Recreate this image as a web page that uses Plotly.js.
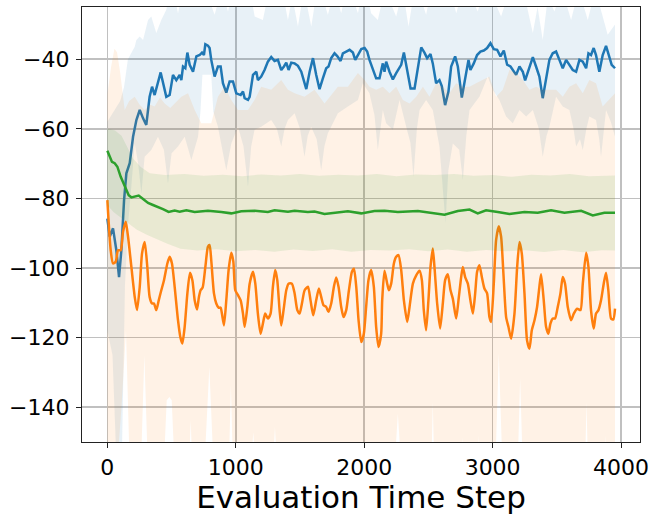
<!DOCTYPE html>
<html>
<head>
<meta charset="utf-8">
<script src="https://cdn.plot.ly/plotly-3.0.1.min.js"></script>
<style>html,body{margin:0;padding:0;background:#fff;}#chart{width:656px;height:515px;}</style>
</head>
<body>
<div id="chart"></div>
<script>
// ---- Blue series (mean) ----
const blueX = [0,18,44,70,91,109,130,135,148,174,187,200,226,252,278,303,329,348,368,415,459,485,511,537,563,576,589,607,623,641,667,693,719,737,752,763,783,796,809,835,861,882,900,926,952,978,1004,1038,1056,1069,1095,1108,1134,1160,1172,1198,1224,1250,1276,1302,1328,1354,1375,1393,1411,1432,1458,1484,1510,1530,1549,1575,1601,1626,1652,1678,1704,1722,1743,1769,1790,1816,1834,1860,1886,1912,1930,1951,1977,2003,2023,2041,2067,2093,2119,2145,2158,2171,2197,2223,2249,2275,2288,2309,2327,2345,2361,2392,2412,2444,2469,2490,2516,2534,2560,2586,2604,2630,2656,2677,2708,2729,2760,2794,2812,2827,2853,2879,2905,2931,2957,2983,3009,3035,3061,3087,3113,3139,3165,3183,3209,3235,3253,3274,3300,3313,3338,3364,3390,3416,3442,3468,3494,3520,3546,3572,3598,3624,3650,3676,3702,3728,3746,3766,3787,3805,3831,3857,3883,3909,3927,3953];
const blueY = [-85.8,-91.0,-88.6,-94.9,-102.6,-94.9,-80.5,-77.6,-72.8,-69.9,-65.1,-62.3,-57.5,-54.6,-57.0,-58.9,-50.8,-47.9,-50.3,-43.8,-50.8,-50.3,-44.5,-46.0,-44.5,-46.0,-42.1,-42.6,-38.1,-41.6,-43.6,-39.2,-38.8,-38.1,-38.8,-35.7,-36.1,-36.8,-40.2,-45.0,-42.1,-42.1,-46.9,-49.6,-46.4,-46.4,-49.8,-50.3,-49.3,-51.2,-51.7,-50.8,-44.5,-43.6,-46.0,-45.0,-43.1,-40.7,-39.4,-40.5,-40.2,-43.1,-42.1,-41.0,-43.1,-41.0,-41.2,-41.9,-43.6,-46.0,-48.6,-43.6,-39.7,-44.5,-48.6,-45.5,-42.6,-42.1,-39.7,-38.3,-39.1,-40.5,-38.3,-37.8,-37.3,-38.1,-40.2,-38.8,-37.1,-36.8,-37.8,-40.2,-42.6,-45.5,-45.5,-41.2,-43.6,-40.7,-43.6,-45.8,-44.0,-42.1,-41.6,-38.1,-42.1,-46.0,-48.4,-48.4,-43.6,-36.6,-38.1,-39.7,-38.5,-41.2,-46.9,-46.0,-47.7,-53.2,-49.3,-42.1,-39.2,-42.1,-51.0,-43.1,-40.2,-43.1,-41.2,-38.8,-37.8,-37.5,-36.8,-35.4,-37.1,-37.3,-39.2,-37.5,-41.6,-42.1,-43.6,-44.5,-42.1,-43.6,-46.1,-43.6,-40.7,-39.4,-42.1,-45.0,-51.2,-46.0,-40.2,-38.3,-37.8,-40.2,-42.6,-40.2,-41.6,-43.1,-43.6,-40.2,-40.7,-42.6,-38.3,-38.8,-36.8,-38.8,-43.6,-38.8,-36.2,-39.7,-41.6,-42.6];
// Blue band edges
const blueUpX = [0,50,100,130,160,213,226,252,278,317,342,381,420,459,500,550,600,700,783,835,890,939,1000,1100,1147,1211,1260,1350,1406,1440,1484,1530,1588,1640,1717,1770,1821,1870,1951,2000,2054,2106,2160,2249,2300,2345,2400,2482,2550,2650,2717,2780,2884,2950,3066,3150,3250,3313,3350,3390,3430,3481,3540,3611,3670,3741,3800,3896,3953];
const blueUpY = [-58,-55,-52,-48,-40,-36.4,-34.5,-33.5,-34.5,-28.7,-27.7,-32.5,-28.7,-25.8,-18,-26.8,-18,-15,-22,-27.2,-20,-26.3,-18,-18,-27.7,-28.7,-20,-18,-28.7,-22,-30.6,-20,-30.6,-18,-27.2,-20,-26.8,-18,-26.8,-18,-26.8,-28.7,-20,-27.7,-20,-30.6,-18,-27.2,-15,-18,-26.8,-18,-26.3,-18,-27.7,-18,-22,-32.5,-25,-34.5,-22,-26.3,-20,-28.7,-20,-28.7,-20,-33,-30];
const blueLoX = [0,40,65,90,115,137,160,190,213,240,265,290,342,394,440,472,500,550,602,654,706,725,740,809,825,861,926,965,1017,1060,1095,1120,1146,1198,1276,1320,1354,1380,1406,1458,1500,1535,1560,1587,1630,1665,1690,1717,1795,1873,1951,1989,2041,2080,2106,2145,2171,2223,2275,2327,2360,2384,2410,2431,2482,2534,2586,2610,2633,2655,2690,2740,2768,2795,2820,2897,2962,3001,3053,3105,3157,3209,3261,3313,3360,3390,3420,3442,3494,3546,3598,3630,3650,3680,3702,3730,3753,3805,3830,3844,3865,3883,3920,3953];
const blueLoY = [-118,-125,-150,-156,-150,-105,-88,-75,-64.2,-70,-78.6,-68,-66.1,-62.3,-66,-75.7,-67,-65.1,-62.3,-69.0,-62.3,-55,-44.5,-44.5,-55,-59.4,-71.9,-64.2,-59.4,-65,-76.6,-65,-60.3,-59.4,-57.5,-60,-65.1,-60,-57.5,-55.5,-60,-68.0,-62,-59.4,-63,-71.9,-65,-61.3,-55.5,-53.6,-51.7,-46.9,-49.8,-56,-66.1,-54.6,-58.4,-60.3,-51.7,-59.4,-64,-73.8,-60,-54.6,-51.7,-54.6,-65.1,-75,-87,-72,-64.2,-66,-74.7,-62,-54.6,-50.8,-45.0,-48.8,-51.7,-56.5,-58.4,-54.6,-56.5,-54.6,-60,-68.0,-62,-59.4,-50.8,-53.6,-54.6,-60,-65.1,-63,-66.1,-60,-56.5,-57.5,-63,-68.0,-60,-54.6,-58,-62.3];

// ---- Orange series (mean) ----
const orangeX = [0,26,44,65,83,104,122,143,161,187,213,231,252,270,291,311,329,348,363,381,400,420,441,467,485,503,524,550,568,584,602,623,643,662,680,698,713,726,742,763,783,796,809,830,848,866,882,892,908,926,944,965,981,996,1017,1038,1056,1069,1090,1108,1134,1152,1172,1193,1211,1229,1250,1271,1289,1307,1323,1341,1354,1372,1393,1411,1437,1458,1479,1497,1515,1536,1562,1582,1603,1626,1647,1665,1683,1704,1722,1743,1764,1782,1800,1821,1839,1860,1881,1904,1920,1938,1956,1977,1997,2015,2033,2054,2075,2093,2111,2132,2140,2158,2179,2192,2210,2231,2249,2267,2288,2309,2335,2353,2379,2405,2431,2449,2464,2482,2500,2516,2534,2547,2568,2591,2612,2630,2651,2672,2690,2716,2734,2755,2768,2786,2807,2827,2846,2864,2879,2897,2916,2936,2957,2975,2988,3009,3027,3048,3066,3084,3105,3123,3144,3170,3191,3209,3227,3248,3268,3287,3305,3326,3346,3364,3377,3398,3416,3434,3450,3468,3486,3507,3528,3546,3564,3585,3611,3632,3658,3684,3702,3728,3746,3766,3787,3805,3824,3844,3865,3883,3901,3922,3940,3953];
const orangeY = [-80.5,-94.9,-98.7,-98.2,-94.9,-94.9,-89.6,-86.7,-91.0,-99.7,-108.3,-112.1,-105.4,-95.8,-92.5,-99.7,-108.3,-110.2,-110.2,-112.1,-109.3,-106.4,-103.5,-98.7,-96.8,-98.7,-105.4,-115.0,-119.8,-121.7,-116.9,-107.3,-101.4,-103.5,-109.3,-111.9,-108.3,-106.4,-105.6,-99.7,-93.9,-93.4,-97.8,-107.3,-110.2,-111.4,-111.4,-113.1,-116.5,-109.3,-100.6,-95.6,-98.2,-106.4,-107.8,-109.3,-113.1,-116.9,-111.2,-104.5,-101.1,-104.5,-113.1,-118.9,-116.0,-113.1,-114.5,-113.1,-105.4,-100.6,-103.5,-112.1,-116.5,-112.1,-106.4,-104.5,-104.5,-107.3,-112.1,-113.1,-110.2,-106.4,-105.4,-109.3,-113.6,-109.3,-105.9,-108.3,-110.7,-111.2,-112.6,-110.2,-105.4,-102.7,-105.4,-111.2,-114.1,-112.1,-106.4,-101.1,-100.2,-105.4,-115.0,-121.3,-118.9,-111.2,-103.5,-100.6,-105.4,-116.9,-122.7,-118.9,-109.3,-100.8,-104.5,-106.4,-104.5,-98.7,-96.8,-96.3,-100.6,-109.3,-115.5,-111.2,-104.5,-102.1,-100.8,-103.5,-112.1,-117.9,-109.3,-99.7,-94.4,-99.7,-110.2,-117.4,-110.2,-103.5,-101.8,-106.4,-108.8,-114.5,-109.3,-102.6,-99.7,-102.6,-104.5,-109.3,-113.1,-107.3,-101.1,-99.2,-102.6,-105.9,-107.3,-114.1,-115.5,-104.5,-92.0,-88.0,-91.0,-101.6,-114.1,-116.9,-120.3,-113.1,-99.7,-92.5,-95.8,-107.3,-120.8,-123.2,-117.9,-115.0,-111.2,-105.4,-101.8,-109.3,-116.9,-118.9,-116.0,-114.5,-114.5,-111.2,-107.3,-102.6,-104.5,-111.2,-115.0,-113.1,-111.7,-112.1,-104.5,-95.6,-99.7,-112.1,-117.4,-113.1,-112.1,-109.3,-104.5,-101.4,-106.4,-114.5,-114.8,-111.7];
// Orange band edges
const orangeUpX = [0,30,55,75,100,135,170,213,250,290,330,368,410,446,490,524,576,628,680,731,809,861,913,965,1017,1095,1146,1198,1276,1354,1406,1458,1535,1613,1691,1795,1873,1951,2003,2041,2093,2145,2197,2249,2301,2353,2405,2457,2508,2560,2612,2664,2716,2768,2820,2871,2923,2975,3027,3079,3131,3183,3235,3287,3339,3390,3442,3494,3546,3598,3650,3702,3753,3805,3857,3909,3953];
const orangeUpY = [-50,-42,-37,-38,-44,-54.6,-52,-50.8,-53,-54.6,-53,-53.6,-51,-52.7,-54,-52.7,-50.8,-49.8,-54.6,-58.4,-58.4,-50.8,-47.9,-51.7,-54.6,-54.6,-51.7,-47.9,-48.8,-46.0,-48.8,-49.8,-50.8,-48.8,-52.7,-47.9,-47.9,-44.0,-46.0,-47.9,-48.8,-47.9,-49.8,-47.9,-51.7,-52.7,-50.8,-47.9,-50.8,-46.9,-47.9,-49.8,-46.9,-47.9,-47.9,-46.9,-46.0,-45.0,-50.8,-48.8,-43.1,-44.0,-46.0,-48.8,-47.9,-48.8,-48.8,-48.8,-50.8,-47.9,-46.9,-49.8,-46.0,-46.9,-53.6,-51.7,-49.8];
const orangeLoX = [0,60,110,145,176,259,288,318,436,462,483,501,527,633,649,664,752,794,830,944,962,980,1115,1136,1157,1285,1305,1325,2231,2262,2293,2521,2534,2547,2758,2768,2778,2883,2893,2903,3019,3048,3079,3193,3214,3237,3718,3731,3744,3869,3879,3889,3953];
const orangeLoY = [-165,-165,-140,-118,-160,-160,-125.1,-160,-160,-138,-137.1,-138,-160,-160,-143.8,-160,-160,-128.5,-160,-160,-133.7,-160,-160,-147.2,-160,-160,-145.7,-160,-160,-141.9,-160,-160,-138.5,-160,-160,-148.6,-160,-160,-148.1,-160,-160,-124.6,-160,-160,-131.8,-160,-160,-138.5,-160,-160,-148.1,-160,-160];

// ---- Green series (mean) ----
const greenX = [0,18,36,57,78,104,135,166,187,213,244,278,317,355,394,433,477,524,563,615,680,783,887,965,1043,1147,1250,1302,1406,1458,1561,1613,1691,1769,1873,1977,2080,2158,2262,2418,2521,2625,2729,2820,2884,2949,3040,3131,3248,3351,3455,3559,3689,3780,3870,3953];
const greenY = [-66.3,-68.0,-69.5,-69.9,-70.9,-73.8,-76.7,-79.1,-79.7,-79.4,-79.2,-80.2,-81.3,-81.9,-82.4,-83.1,-83.9,-83.5,-83.8,-83.4,-83.9,-83.55,-83.9,-84.3,-83.7,-83.55,-83.9,-83.4,-83.8,-83.55,-83.9,-83.8,-84.5,-84.1,-83.7,-84.3,-83.6,-83.55,-83.9,-83.6,-84.1,-84.7,-83.6,-83.2,-84.3,-83.4,-83.9,-84.5,-83.9,-84.1,-83.4,-84.1,-83.55,-84.9,-84.1,-84.1];
// Green band edges
const greenUpX = [0,60,110,150,200,260,330,450,600,750,900,1050,1200,1350,1500,1650,1800,1950,2100,2250,2400,2550,2700,2850,3000,3150,3300,3450,3600,3750,3953];
const greenUpY = [-60,-60.5,-62,-65,-68.5,-71,-72.8,-73.3,-73.0,-73.5,-73.2,-73.6,-73.1,-73.4,-73.0,-73.5,-73.2,-73.4,-73.0,-73.6,-73.1,-73.3,-73.0,-73.5,-73.3,-73.8,-73.2,-73.4,-73.0,-73.6,-73.4];
const greenLoX = [0,50,100,160,230,311,400,467,570,700,850,1000,1150,1300,1450,1600,1750,1900,2050,2200,2350,2500,2650,2800,2950,3100,3250,3400,3550,3700,3850,3953];
const greenLoY = [-82,-84,-85.5,-87,-89,-90.5,-92,-93,-94.5,-95,-94.6,-95.2,-94.8,-95.3,-94.7,-95.1,-94.6,-95.3,-94.8,-95.0,-94.6,-95.2,-94.7,-95.3,-94.8,-95.2,-94.9,-95.4,-94.8,-95.5,-94.9,-95.0];

// ---- Axis ticks ----
const xTicks = [0, 1000, 2000, 3000, 4000];
const yTicks = [-140, -120, -100, -80, -60, -40];
const xTitle = 'Evaluation Time Step';

function band(xu, yu, xl, yl, fill) {
  return {
    x: xu.concat(xl.slice().reverse()),
    y: yu.concat(yl.slice().reverse()),
    type: 'scatter', mode: 'lines', fill: 'toself', fillcolor: fill,
    line: {width: 0, color: 'rgba(0,0,0,0)'}, hoverinfo: 'skip', showlegend: false
  };
}
function line(x, y, color, shape) {
  return {x: x, y: y, type: 'scatter', mode: 'lines',
    line: {color: color, width: 2.5, shape: shape || 'linear', smoothing: 0.6},
    showlegend: false, hoverinfo: 'skip'};
}

const data = [
  band(blueUpX, blueUpY, blueLoX, blueLoY, 'rgba(31,119,180,0.1)'),
  line(blueX, blueY, '#1f77b4'),
  band(orangeUpX, orangeUpY, orangeLoX, orangeLoY, 'rgba(255,127,14,0.1)'),
  line(orangeX, orangeY, '#ff7f0e', 'spline'),
  band(greenUpX, greenUpY, greenLoX, greenLoY, 'rgba(44,160,44,0.1)'),
  line(greenX, greenY, '#2ca02c')
];

const axisCommon = {
  showgrid: true, gridcolor: '#c0c0c0', gridwidth: 1.6,
  zeroline: false, showline: true, mirror: true, linecolor: '#222', linewidth: 1.1,
  ticks: 'outside', ticklen: 5, tickwidth: 1, tickcolor: '#222',
  tickfont: {family: 'DejaVu Sans', size: 22, color: '#000'}
};

const layout = {
  width: 656, height: 515,
  margin: {l: 82, r: 16, t: 7, b: 73},
  paper_bgcolor: '#fff', plot_bgcolor: '#fff',
  showlegend: false,
  xaxis: Object.assign({}, axisCommon, {
    range: [-197.5, 4147.5], tickmode: 'array', tickvals: xTicks,
    ticktext: xTicks.map(String),
    title: {text: xTitle, font: {family: 'DejaVu Sans', size: 31, color: '#000'}, standoff: 10}
  }),
  yaxis: Object.assign({}, axisCommon, {
    range: [-150, -25], tickmode: 'array', tickvals: yTicks,
    ticklabelstandoff: 2
  })
};

Plotly.newPlot('chart', data, layout, {staticPlot: true, displayModeBar: false});
</script>
</body>
</html>
